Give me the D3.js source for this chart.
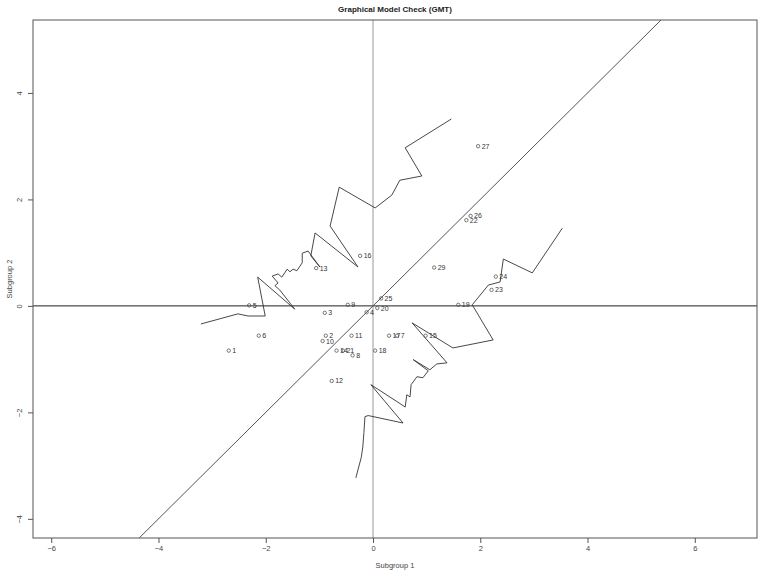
<!DOCTYPE html>
<html><head><meta charset="utf-8">
<script src="https://cdn.jsdelivr.net/npm/d3@7"></script>
<style>body{margin:0;background:#fff;} text{font-family:"Liberation Sans",Arial,sans-serif;}</style>
</head><body><svg id="c" width="762" height="572"></svg>
<script>
// ---- data ----
const title = "Graphical Model Check (GMT)";
const xLabel = "Subgroup 1";
const yLabel = "Subgroup 2";
const xTicks = [-6, -4, -2, 0, 2, 4, 6];
const yTicks = [-4, -2, 0, 2, 4];
const itemLabels = ["1","2","3","4","5","6","7","8","9","10","11","12","13","14","15","16","17","18","19","20","21","22","23","24","25","26","27","29"];
const sub1 = [-2.69,-0.88,-0.90,-0.12,-2.31,-2.13,0.45,-0.38,-0.47,-0.94,-0.40,-0.77,-1.06,-0.68,0.98,-0.24,0.30,0.04,1.59,0.08,-0.56,1.74,2.21,2.29,0.15,1.82,1.96,1.14];
const sub2 = [-0.84,-0.56,-0.13,-0.12,0.01,-0.56,-0.56,-0.93,0.02,-0.66,-0.56,-1.41,0.71,-0.84,-0.56,0.94,-0.56,-0.84,0.02,-0.04,-0.84,1.61,0.30,0.55,0.14,1.69,3.00,0.72];
// upper confidence line
const upperX = [-3.21,-2.52,-2.33,-2.01,-2.15,-1.46,-1.74,-1.83,-1.77,-1.88,-1.77,-1.70,-1.60,-1.55,-1.49,-1.42,-1.32,-1.32,-1.21,-0.99,-1.16,-1.08,-0.28,-0.80,-0.63,0.04,0.35,0.50,0.91,0.60,1.46];
const upperY = [-0.34,-0.15,-0.19,-0.19,0.54,-0.06,0.30,0.38,0.43,0.56,0.60,0.54,0.69,0.64,0.69,0.66,0.81,0.99,1.03,0.73,0.94,1.37,0.73,1.50,2.23,1.84,2.08,2.36,2.44,2.97,3.51];
// lower confidence line
const lowerX = [-0.32,-0.22,-0.19,-0.17,-0.15,-0.09,0.56,-0.04,0.45,0.60,0.63,0.69,0.71,0.82,0.93,1.03,0.75,1.06,1.19,1.38,0.73,1.49,2.24,1.85,2.15,2.37,2.43,2.97,3.53];
const lowerY = [-3.23,-2.85,-2.65,-2.38,-2.08,-2.06,-2.20,-1.48,-1.80,-1.90,-1.67,-1.71,-1.48,-1.33,-1.35,-1.22,-1.01,-1.20,-1.09,-1.07,-0.32,-0.79,-0.64,0.02,0.39,0.45,0.88,0.62,1.46];

// ---- drawing ----
const svg = d3.select("#c");
const L = 33, R = 757, T = 20, B = 538;
const x = d3.scaleLinear().domain([-6.34, 7.16]).range([L, R]);
const y = d3.scaleLinear().domain([-4.36, 5.37]).range([B, T]);

svg.append("defs").append("clipPath").attr("id","clip")
  .append("rect").attr("x",L).attr("y",T).attr("width",R-L).attr("height",B-T);

const g = svg.append("g").attr("clip-path","url(#clip)");

// reference lines
g.append("line").attr("x1",x(0)).attr("x2",x(0)).attr("y1",T).attr("y2",B)
  .attr("stroke","#cccccc").attr("stroke-width",2);
g.append("line").attr("x1",L).attr("x2",R).attr("y1",y(0)).attr("y2",y(0))
  .attr("stroke","#222").attr("stroke-width",1);
const dlo = Math.max(x.domain()[0], y.domain()[0]), dhi = Math.min(x.domain()[1], y.domain()[1]);
g.append("line").attr("x1",x(dlo)).attr("y1",y(dlo)).attr("x2",x(dhi)).attr("y2",y(dhi))
  .attr("stroke","#555").attr("stroke-width",1);

const line = d3.line().x(d=>x(d[0])).y(d=>y(d[1]));
g.append("path").datum(upperX.map((v,i)=>[v,upperY[i]])).attr("d",line)
  .attr("fill","none").attr("stroke","#333").attr("stroke-width",0.9);
g.append("path").datum(lowerX.map((v,i)=>[v,lowerY[i]])).attr("d",line)
  .attr("fill","none").attr("stroke","#333").attr("stroke-width",0.9);

// points
const pts = itemLabels.map((l,i)=>({l, a:sub1[i], b:sub2[i]}));
g.selectAll("circle.p").data(pts).join("circle").attr("class","p")
  .attr("cx",d=>x(d.a)).attr("cy",d=>y(d.b)).attr("r",1.7)
  .attr("fill","none").attr("stroke","#555").attr("stroke-width",0.8);
g.selectAll("text.p").data(pts).join("text").attr("class","p")
  .attr("x",d=>x(d.a)+3.5).attr("y",d=>y(d.b)+2.5)
  .attr("font-size",7).attr("fill","#333").text(d=>d.l);

// frame
svg.append("rect").attr("x",L).attr("y",T).attr("width",R-L).attr("height",B-T)
  .attr("fill","none").attr("stroke","#555").attr("stroke-width",1);

// axes
const xa = svg.append("g").attr("transform",`translate(0,${B})`)
  .call(d3.axisBottom(x).tickValues(xTicks).tickSize(5).tickSizeOuter(0).tickFormat(d3.format("d")));
const ya = svg.append("g").attr("transform",`translate(${L},0)`)
  .call(d3.axisLeft(y).tickValues(yTicks).tickSize(5).tickSizeOuter(0).tickFormat(d3.format("d")));
[xa, ya].forEach(a=>{
  a.select(".domain").remove();
  a.selectAll("line").attr("stroke","#555");
  a.selectAll("text").attr("font-size",7.5).attr("fill","#444")
    .style("font-family","Liberation Sans, Arial, sans-serif");
});
xa.selectAll("text").attr("dy","1.1em").attr("y",5);
ya.selectAll("text").attr("text-anchor","middle").attr("x",0).attr("dy",0)
  .attr("transform","translate(-11,0) rotate(-90)");

// titles
svg.append("text").attr("x",(L+R)/2).attr("y",12).attr("text-anchor","middle")
  .attr("font-size",8).attr("font-weight","bold").attr("fill","#222").text(title);
svg.append("text").attr("x",(L+R)/2).attr("y",568).attr("text-anchor","middle")
  .attr("font-size",7.5).attr("fill","#444").text(xLabel);
svg.append("text").attr("transform",`translate(12,${(T+B)/2}) rotate(-90)`).attr("text-anchor","middle")
  .attr("font-size",7.5).attr("fill","#444").text(yLabel);
</script></body></html>
